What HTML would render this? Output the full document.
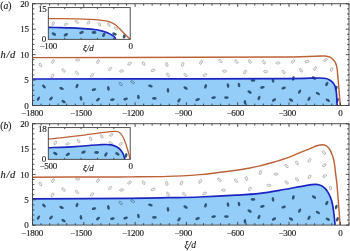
<!DOCTYPE html>
<html><head><meta charset="utf-8"><style>
html,body{margin:0;padding:0;background:#fff;width:350px;height:251px;overflow:hidden}
svg{display:block}
text{font-family:"Liberation Serif","DejaVu Serif",serif;fill:#222;stroke:#222;stroke-width:0.15px}
</style></head><body>
<svg width="350" height="251" viewBox="0 0 350 251">
<path d="M32.50,79.00 C60.42,78.97 158.75,78.91 200.00,78.85 C241.25,78.79 261.67,78.77 280.00,78.65 C298.33,78.53 303.33,78.26 310.00,78.15 C316.67,78.04 317.33,77.94 320.00,78.00 C322.67,78.06 324.33,78.13 326.00,78.50 C327.67,78.87 328.83,79.50 330.00,80.20 C331.17,80.90 332.17,81.73 333.00,82.70 C333.83,83.67 334.50,84.78 335.00,86.00 C335.50,87.22 335.73,88.50 336.00,90.00 C336.27,91.50 336.42,92.42 336.60,95.00 C336.78,97.58 337.02,103.75 337.10,105.50 L337.10,105.50 L32.50,105.50 Z" fill="#93cdf8"/>
<ellipse cx="44.0" cy="86.6" rx="2.35" ry="1.32" transform="rotate(45 44.0 86.6)" fill="#2f5676"/>
<ellipse cx="61.6" cy="88.4" rx="2.35" ry="1.32" transform="rotate(20 61.6 88.4)" fill="#2f5676"/>
<ellipse cx="77.0" cy="86.0" rx="2.35" ry="1.32" transform="rotate(-70 77.0 86.0)" fill="#2f5676"/>
<ellipse cx="94.0" cy="89.6" rx="2.35" ry="1.32" transform="rotate(-15 94.0 89.6)" fill="#2f5676"/>
<ellipse cx="38.4" cy="98.6" rx="2.35" ry="1.32" transform="rotate(-60 38.4 98.6)" fill="#2f5676"/>
<ellipse cx="51.0" cy="98.6" rx="2.35" ry="1.32" transform="rotate(-45 51.0 98.6)" fill="#2f5676"/>
<ellipse cx="63.6" cy="101.6" rx="2.35" ry="1.32" transform="rotate(30 63.6 101.6)" fill="#2f5676"/>
<ellipse cx="81.0" cy="98.4" rx="2.35" ry="1.32" transform="rotate(80 81.0 98.4)" fill="#2f5676"/>
<ellipse cx="98.0" cy="99.6" rx="2.35" ry="1.32" transform="rotate(-40 98.0 99.6)" fill="#2f5676"/>
<ellipse cx="108.4" cy="88.4" rx="2.35" ry="1.32" transform="rotate(80 108.4 88.4)" fill="#2f5676"/>
<ellipse cx="150.4" cy="86.0" rx="2.35" ry="1.32" transform="rotate(10 150.4 86.0)" fill="#2f5676"/>
<ellipse cx="168.0" cy="90.4" rx="2.35" ry="1.32" transform="rotate(85 168.0 90.4)" fill="#2f5676"/>
<ellipse cx="112.4" cy="99.6" rx="2.35" ry="1.32" transform="rotate(-10 112.4 99.6)" fill="#2f5676"/>
<ellipse cx="125.6" cy="99.0" rx="2.35" ry="1.32" transform="rotate(-15 125.6 99.0)" fill="#2f5676"/>
<ellipse cx="138.4" cy="97.0" rx="2.35" ry="1.32" transform="rotate(80 138.4 97.0)" fill="#2f5676"/>
<ellipse cx="154.4" cy="98.4" rx="2.35" ry="1.32" transform="rotate(0 154.4 98.4)" fill="#2f5676"/>
<ellipse cx="185.6" cy="88.0" rx="2.35" ry="1.32" transform="rotate(30 185.6 88.0)" fill="#2f5676"/>
<ellipse cx="205.6" cy="86.4" rx="2.35" ry="1.32" transform="rotate(-70 205.6 86.4)" fill="#2f5676"/>
<ellipse cx="228.0" cy="85.6" rx="2.35" ry="1.32" transform="rotate(80 228.0 85.6)" fill="#2f5676"/>
<ellipse cx="179.0" cy="100.4" rx="2.35" ry="1.32" transform="rotate(-60 179.0 100.4)" fill="#2f5676"/>
<ellipse cx="197.6" cy="99.6" rx="2.35" ry="1.32" transform="rotate(-20 197.6 99.6)" fill="#2f5676"/>
<ellipse cx="213.6" cy="97.6" rx="2.35" ry="1.32" transform="rotate(-10 213.6 97.6)" fill="#2f5676"/>
<ellipse cx="226.4" cy="97.6" rx="2.35" ry="1.32" transform="rotate(0 226.4 97.6)" fill="#2f5676"/>
<ellipse cx="253.0" cy="80.4" rx="2.35" ry="1.32" transform="rotate(0 253.0 80.4)" fill="#2f5676"/>
<ellipse cx="273.0" cy="80.4" rx="2.35" ry="1.32" transform="rotate(80 273.0 80.4)" fill="#2f5676"/>
<ellipse cx="293.3" cy="78.4" rx="2.35" ry="1.32" transform="rotate(-75 293.3 78.4)" fill="#2f5676"/>
<ellipse cx="239.0" cy="85.0" rx="2.35" ry="1.32" transform="rotate(80 239.0 85.0)" fill="#2f5676"/>
<ellipse cx="262.4" cy="87.4" rx="2.35" ry="1.32" transform="rotate(-15 262.4 87.4)" fill="#2f5676"/>
<ellipse cx="283.6" cy="88.0" rx="2.35" ry="1.32" transform="rotate(-20 283.6 88.0)" fill="#2f5676"/>
<ellipse cx="299.6" cy="91.6" rx="2.35" ry="1.32" transform="rotate(-60 299.6 91.6)" fill="#2f5676"/>
<ellipse cx="249.6" cy="92.0" rx="2.35" ry="1.32" transform="rotate(30 249.6 92.0)" fill="#2f5676"/>
<ellipse cx="259.0" cy="98.0" rx="2.35" ry="1.32" transform="rotate(-70 259.0 98.0)" fill="#2f5676"/>
<ellipse cx="274.0" cy="100.0" rx="2.35" ry="1.32" transform="rotate(-30 274.0 100.0)" fill="#2f5676"/>
<ellipse cx="291.0" cy="100.0" rx="2.35" ry="1.32" transform="rotate(30 291.0 100.0)" fill="#2f5676"/>
<ellipse cx="245.0" cy="102.4" rx="2.35" ry="1.32" transform="rotate(85 245.0 102.4)" fill="#2f5676"/>
<ellipse cx="314.0" cy="78.0" rx="2.35" ry="1.32" transform="rotate(30 314.0 78.0)" fill="#2f5676"/>
<ellipse cx="326.8" cy="84.0" rx="2.35" ry="1.32" transform="rotate(-60 326.8 84.0)" fill="#2f5676"/>
<ellipse cx="336.2" cy="88.0" rx="2.35" ry="1.32" transform="rotate(-70 336.2 88.0)" fill="#2f5676"/>
<ellipse cx="317.9" cy="93.5" rx="2.35" ry="1.32" transform="rotate(32 317.9 93.5)" fill="#2f5676"/>
<ellipse cx="309.0" cy="98.8" rx="2.35" ry="1.32" transform="rotate(-60 309.0 98.8)" fill="#2f5676"/>
<ellipse cx="327.8" cy="100.2" rx="2.35" ry="1.32" transform="rotate(30 327.8 100.2)" fill="#2f5676"/>
<ellipse cx="337.4" cy="100.2" rx="2.35" ry="1.32" transform="rotate(-70 337.4 100.2)" fill="#2f5676"/>
<ellipse cx="40.4" cy="65.0" rx="2.10" ry="1.10" transform="rotate(60 40.4 65.0)" fill="#f1f1f1" stroke="#ababab" stroke-width="0.75"/>
<ellipse cx="53.0" cy="61.6" rx="2.10" ry="1.10" transform="rotate(-60 53.0 61.6)" fill="#f1f1f1" stroke="#ababab" stroke-width="0.75"/>
<ellipse cx="77.6" cy="60.0" rx="2.10" ry="1.10" transform="rotate(0 77.6 60.0)" fill="#f1f1f1" stroke="#ababab" stroke-width="0.75"/>
<ellipse cx="98.0" cy="61.6" rx="2.10" ry="1.10" transform="rotate(-60 98.0 61.6)" fill="#f1f1f1" stroke="#ababab" stroke-width="0.75"/>
<ellipse cx="63.6" cy="70.6" rx="2.10" ry="1.10" transform="rotate(45 63.6 70.6)" fill="#f1f1f1" stroke="#ababab" stroke-width="0.75"/>
<ellipse cx="77.0" cy="73.0" rx="2.10" ry="1.10" transform="rotate(45 77.0 73.0)" fill="#f1f1f1" stroke="#ababab" stroke-width="0.75"/>
<ellipse cx="52.4" cy="76.0" rx="2.10" ry="1.10" transform="rotate(-60 52.4 76.0)" fill="#f1f1f1" stroke="#ababab" stroke-width="0.75"/>
<ellipse cx="92.0" cy="75.4" rx="2.10" ry="1.10" transform="rotate(-45 92.0 75.4)" fill="#f1f1f1" stroke="#ababab" stroke-width="0.75"/>
<ellipse cx="129.6" cy="63.6" rx="2.10" ry="1.10" transform="rotate(-30 129.6 63.6)" fill="#f1f1f1" stroke="#ababab" stroke-width="0.75"/>
<ellipse cx="143.6" cy="63.6" rx="2.10" ry="1.10" transform="rotate(60 143.6 63.6)" fill="#f1f1f1" stroke="#ababab" stroke-width="0.75"/>
<ellipse cx="166.8" cy="64.5" rx="2.10" ry="1.10" transform="rotate(75 166.8 64.5)" fill="#f1f1f1" stroke="#ababab" stroke-width="0.75"/>
<ellipse cx="110.0" cy="69.0" rx="2.10" ry="1.10" transform="rotate(-45 110.0 69.0)" fill="#f1f1f1" stroke="#ababab" stroke-width="0.75"/>
<ellipse cx="121.6" cy="71.0" rx="2.10" ry="1.10" transform="rotate(-10 121.6 71.0)" fill="#f1f1f1" stroke="#ababab" stroke-width="0.75"/>
<ellipse cx="153.0" cy="70.4" rx="2.10" ry="1.10" transform="rotate(-20 153.0 70.4)" fill="#f1f1f1" stroke="#ababab" stroke-width="0.75"/>
<ellipse cx="168.0" cy="75.0" rx="2.10" ry="1.10" transform="rotate(60 168.0 75.0)" fill="#f1f1f1" stroke="#ababab" stroke-width="0.75"/>
<ellipse cx="182.6" cy="64.5" rx="2.10" ry="1.10" transform="rotate(-65 182.6 64.5)" fill="#f1f1f1" stroke="#ababab" stroke-width="0.75"/>
<ellipse cx="201.0" cy="62.4" rx="2.10" ry="1.10" transform="rotate(-60 201.0 62.4)" fill="#f1f1f1" stroke="#ababab" stroke-width="0.75"/>
<ellipse cx="220.4" cy="61.0" rx="2.10" ry="1.10" transform="rotate(45 220.4 61.0)" fill="#f1f1f1" stroke="#ababab" stroke-width="0.75"/>
<ellipse cx="236.5" cy="61.6" rx="2.10" ry="1.10" transform="rotate(45 236.5 61.6)" fill="#f1f1f1" stroke="#ababab" stroke-width="0.75"/>
<ellipse cx="185.6" cy="75.0" rx="2.10" ry="1.10" transform="rotate(45 185.6 75.0)" fill="#f1f1f1" stroke="#ababab" stroke-width="0.75"/>
<ellipse cx="205.0" cy="75.0" rx="2.10" ry="1.10" transform="rotate(-30 205.0 75.0)" fill="#f1f1f1" stroke="#ababab" stroke-width="0.75"/>
<ellipse cx="224.5" cy="71.2" rx="2.10" ry="1.10" transform="rotate(5 224.5 71.2)" fill="#f1f1f1" stroke="#ababab" stroke-width="0.75"/>
<ellipse cx="249.8" cy="61.5" rx="2.10" ry="1.10" transform="rotate(60 249.8 61.5)" fill="#f1f1f1" stroke="#ababab" stroke-width="0.75"/>
<ellipse cx="264.0" cy="62.2" rx="2.10" ry="1.10" transform="rotate(60 264.0 62.2)" fill="#f1f1f1" stroke="#ababab" stroke-width="0.75"/>
<ellipse cx="278.0" cy="63.0" rx="2.10" ry="1.10" transform="rotate(-5 278.0 63.0)" fill="#f1f1f1" stroke="#ababab" stroke-width="0.75"/>
<ellipse cx="293.0" cy="61.5" rx="2.10" ry="1.10" transform="rotate(-45 293.0 61.5)" fill="#f1f1f1" stroke="#ababab" stroke-width="0.75"/>
<ellipse cx="245.0" cy="72.0" rx="2.10" ry="1.10" transform="rotate(-60 245.0 72.0)" fill="#f1f1f1" stroke="#ababab" stroke-width="0.75"/>
<ellipse cx="265.6" cy="71.6" rx="2.10" ry="1.10" transform="rotate(0 265.6 71.6)" fill="#f1f1f1" stroke="#ababab" stroke-width="0.75"/>
<ellipse cx="283.6" cy="72.0" rx="2.10" ry="1.10" transform="rotate(45 283.6 72.0)" fill="#f1f1f1" stroke="#ababab" stroke-width="0.75"/>
<ellipse cx="301.0" cy="70.3" rx="2.10" ry="1.10" transform="rotate(60 301.0 70.3)" fill="#f1f1f1" stroke="#ababab" stroke-width="0.75"/>
<ellipse cx="307.0" cy="61.6" rx="2.10" ry="1.10" transform="rotate(-15 307.0 61.6)" fill="#f1f1f1" stroke="#ababab" stroke-width="0.75"/>
<ellipse cx="325.5" cy="60.0" rx="2.10" ry="1.10" transform="rotate(-30 325.5 60.0)" fill="#f1f1f1" stroke="#ababab" stroke-width="0.75"/>
<ellipse cx="315.0" cy="68.5" rx="2.10" ry="1.10" transform="rotate(-60 315.0 68.5)" fill="#f1f1f1" stroke="#ababab" stroke-width="0.75"/>
<ellipse cx="331.5" cy="69.5" rx="2.10" ry="1.10" transform="rotate(-80 331.5 69.5)" fill="#f1f1f1" stroke="#ababab" stroke-width="0.75"/>
<ellipse cx="120.6" cy="84.0" rx="2.10" ry="1.10" transform="rotate(45 120.6 84.0)" fill="none" stroke="#52789a" stroke-width="0.75"/>
<ellipse cx="132.6" cy="82.1" rx="2.10" ry="1.10" transform="rotate(30 132.6 82.1)" fill="none" stroke="#52789a" stroke-width="0.75"/>
<path d="M32.50,57.60 C60.42,57.55 158.75,57.40 200.00,57.30 C241.25,57.20 260.83,57.18 280.00,57.00 C299.17,56.82 307.50,56.37 315.00,56.20 C322.50,56.03 322.50,55.83 325.00,56.00 C327.50,56.17 328.58,56.53 330.00,57.20 C331.42,57.87 332.53,58.95 333.50,60.00 C334.47,61.05 335.22,62.17 335.80,63.50 C336.38,64.83 336.68,66.08 337.00,68.00 C337.32,69.92 337.43,72.17 337.70,75.00 C337.97,77.83 338.32,81.67 338.60,85.00 C338.88,88.33 339.13,91.58 339.40,95.00 C339.67,98.42 340.07,103.75 340.20,105.50" fill="none" stroke="#bc6238" stroke-width="1.45"/>
<path d="M32.50,79.00 C60.42,78.97 158.75,78.91 200.00,78.85 C241.25,78.79 261.67,78.77 280.00,78.65 C298.33,78.53 303.33,78.26 310.00,78.15 C316.67,78.04 317.33,77.94 320.00,78.00 C322.67,78.06 324.33,78.13 326.00,78.50 C327.67,78.87 328.83,79.50 330.00,80.20 C331.17,80.90 332.17,81.73 333.00,82.70 C333.83,83.67 334.50,84.78 335.00,86.00 C335.50,87.22 335.73,88.50 336.00,90.00 C336.27,91.50 336.42,92.42 336.60,95.00 C336.78,97.58 337.02,103.75 337.10,105.50" fill="none" stroke="#1c24c0" stroke-width="1.70"/>
<path d="M32.50,105.50h3.20 M349.00,105.50h-3.20 M32.50,100.41h1.90 M349.00,100.41h-1.90 M32.50,95.33h1.90 M349.00,95.33h-1.90 M32.50,90.24h1.90 M349.00,90.24h-1.90 M32.50,85.15h1.90 M349.00,85.15h-1.90 M32.50,80.06h3.20 M349.00,80.06h-3.20 M32.50,74.97h1.90 M349.00,74.97h-1.90 M32.50,69.89h1.90 M349.00,69.89h-1.90 M32.50,64.80h1.90 M349.00,64.80h-1.90 M32.50,59.71h1.90 M349.00,59.71h-1.90 M32.50,54.62h3.20 M349.00,54.62h-3.20 M32.50,49.54h1.90 M349.00,49.54h-1.90 M32.50,44.45h1.90 M349.00,44.45h-1.90 M32.50,39.36h1.90 M349.00,39.36h-1.90 M32.50,34.27h1.90 M349.00,34.27h-1.90 M32.50,29.19h3.20 M349.00,29.19h-3.20 M32.50,24.10h1.90 M349.00,24.10h-1.90 M32.50,19.01h1.90 M349.00,19.01h-1.90 M32.50,13.92h1.90 M349.00,13.92h-1.90 M32.50,8.84h1.90 M349.00,8.84h-1.90 M32.50,3.75h3.20 M349.00,3.75h-3.20 M32.50,105.50v-3.20 M32.50,3.75v3.20 M41.05,105.50v-1.90 M41.05,3.75v1.90 M49.60,105.50v-1.90 M49.60,3.75v1.90 M58.15,105.50v-1.90 M58.15,3.75v1.90 M66.70,105.50v-1.90 M66.70,3.75v1.90 M75.25,105.50v-1.90 M75.25,3.75v1.90 M83.80,105.50v-3.20 M83.80,3.75v3.20 M92.35,105.50v-1.90 M92.35,3.75v1.90 M100.90,105.50v-1.90 M100.90,3.75v1.90 M109.45,105.50v-1.90 M109.45,3.75v1.90 M118.00,105.50v-1.90 M118.00,3.75v1.90 M126.55,105.50v-1.90 M126.55,3.75v1.90 M135.10,105.50v-3.20 M135.10,3.75v3.20 M143.65,105.50v-1.90 M143.65,3.75v1.90 M152.20,105.50v-1.90 M152.20,3.75v1.90 M160.75,105.50v-1.90 M160.75,3.75v1.90 M169.30,105.50v-1.90 M169.30,3.75v1.90 M177.85,105.50v-1.90 M177.85,3.75v1.90 M186.40,105.50v-3.20 M186.40,3.75v3.20 M194.95,105.50v-1.90 M194.95,3.75v1.90 M203.50,105.50v-1.90 M203.50,3.75v1.90 M212.05,105.50v-1.90 M212.05,3.75v1.90 M220.60,105.50v-1.90 M220.60,3.75v1.90 M229.15,105.50v-1.90 M229.15,3.75v1.90 M237.70,105.50v-3.20 M237.70,3.75v3.20 M246.25,105.50v-1.90 M246.25,3.75v1.90 M254.80,105.50v-1.90 M254.80,3.75v1.90 M263.35,105.50v-1.90 M263.35,3.75v1.90 M271.90,105.50v-1.90 M271.90,3.75v1.90 M280.45,105.50v-1.90 M280.45,3.75v1.90 M289.00,105.50v-3.20 M289.00,3.75v3.20 M297.55,105.50v-1.90 M297.55,3.75v1.90 M306.10,105.50v-1.90 M306.10,3.75v1.90 M314.65,105.50v-1.90 M314.65,3.75v1.90 M323.20,105.50v-1.90 M323.20,3.75v1.90 M331.75,105.50v-1.90 M331.75,3.75v1.90 M340.30,105.50v-3.20 M340.30,3.75v3.20 M348.85,105.50v-1.90 M348.85,3.75v1.90" stroke="#3c3c3c" stroke-width="0.90" fill="none"/>
<rect x="32.50" y="3.75" width="316.50" height="101.75" fill="none" stroke="#3c3c3c" stroke-width="0.90"/>
<rect x="48.30" y="7.60" width="81.90" height="31.75" fill="#fff"/>
<path d="M48.30,27.40 C50.25,27.43 56.38,27.52 60.00,27.60 C63.62,27.68 66.17,27.73 70.00,27.90 C73.83,28.07 79.17,28.35 83.00,28.60 C86.83,28.85 90.50,29.17 93.00,29.40 C95.50,29.63 96.33,29.68 98.00,30.00 C99.67,30.32 101.33,30.82 103.00,31.30 C104.67,31.78 106.50,32.27 108.00,32.90 C109.50,33.53 110.90,34.40 112.00,35.10 C113.10,35.80 113.98,36.39 114.60,37.10 C115.22,37.81 115.52,38.98 115.70,39.35 L115.70,39.35 L48.30,39.35 Z" fill="#93cdf8"/>
<ellipse cx="53.9" cy="34.0" rx="2.40" ry="1.40" transform="rotate(30 53.9 34.0)" fill="#2f5676"/>
<ellipse cx="65.8" cy="34.7" rx="2.40" ry="1.40" transform="rotate(-30 65.8 34.7)" fill="#2f5676"/>
<ellipse cx="81.5" cy="32.5" rx="2.40" ry="1.40" transform="rotate(-20 81.5 32.5)" fill="#2f5676"/>
<ellipse cx="94.0" cy="32.5" rx="2.40" ry="1.40" transform="rotate(0 94.0 32.5)" fill="#2f5676"/>
<ellipse cx="103.8" cy="34.7" rx="2.40" ry="1.40" transform="rotate(-60 103.8 34.7)" fill="#2f5676"/>
<ellipse cx="114.5" cy="34.0" rx="2.40" ry="1.40" transform="rotate(20 114.5 34.0)" fill="#2f5676"/>
<ellipse cx="124.3" cy="36.2" rx="2.40" ry="1.40" transform="rotate(-70 124.3 36.2)" fill="#2f5676"/>
<ellipse cx="53.2" cy="23.5" rx="1.95" ry="1.00" transform="rotate(-70 53.2 23.5)" fill="#f1f1f1" stroke="#ababab" stroke-width="0.75"/>
<ellipse cx="66.0" cy="24.3" rx="1.95" ry="1.00" transform="rotate(-20 66.0 24.3)" fill="#f1f1f1" stroke="#ababab" stroke-width="0.75"/>
<ellipse cx="76.8" cy="22.0" rx="1.95" ry="1.00" transform="rotate(30 76.8 22.0)" fill="#f1f1f1" stroke="#ababab" stroke-width="0.75"/>
<ellipse cx="88.5" cy="22.5" rx="1.95" ry="1.00" transform="rotate(-60 88.5 22.5)" fill="#f1f1f1" stroke="#ababab" stroke-width="0.75"/>
<ellipse cx="99.5" cy="24.3" rx="1.95" ry="1.00" transform="rotate(70 99.5 24.3)" fill="#f1f1f1" stroke="#ababab" stroke-width="0.75"/>
<ellipse cx="108.8" cy="24.6" rx="1.95" ry="1.00" transform="rotate(60 108.8 24.6)" fill="#f1f1f1" stroke="#ababab" stroke-width="0.75"/>
<ellipse cx="115.8" cy="28.4" rx="1.95" ry="1.00" transform="rotate(30 115.8 28.4)" fill="#f1f1f1" stroke="#ababab" stroke-width="0.75"/>
<path d="M48.30,18.60 C52.75,18.63 68.05,18.68 75.00,18.80 C81.95,18.92 85.83,19.08 90.00,19.30 C94.17,19.52 97.17,19.78 100.00,20.10 C102.83,20.42 105.00,20.75 107.00,21.20 C109.00,21.65 110.50,22.12 112.00,22.80 C113.50,23.48 114.67,24.27 116.00,25.30 C117.33,26.33 118.58,27.58 120.00,29.00 C121.42,30.42 122.80,32.07 124.50,33.80 C126.20,35.52 129.25,38.42 130.20,39.35" fill="none" stroke="#bc6238" stroke-width="1.30"/>
<path d="M48.30,27.40 C50.25,27.43 56.38,27.52 60.00,27.60 C63.62,27.68 66.17,27.73 70.00,27.90 C73.83,28.07 79.17,28.35 83.00,28.60 C86.83,28.85 90.50,29.17 93.00,29.40 C95.50,29.63 96.33,29.68 98.00,30.00 C99.67,30.32 101.33,30.82 103.00,31.30 C104.67,31.78 106.50,32.27 108.00,32.90 C109.50,33.53 110.90,34.40 112.00,35.10 C113.10,35.80 113.98,36.39 114.60,37.10 C115.22,37.81 115.52,38.98 115.70,39.35" fill="none" stroke="#1c24c0" stroke-width="1.60"/>
<path d="M64.68,39.35v-1.50 M64.68,7.60v1.50 M81.06,39.35v-1.50 M81.06,7.60v1.50 M97.44,39.35v-1.50 M97.44,7.60v1.50 M113.82,39.35v-1.50 M113.82,7.60v1.50" stroke="#3c3c3c" stroke-width="0.90" fill="none"/>
<rect x="48.30" y="7.60" width="81.90" height="31.75" fill="none" stroke="#3c3c3c" stroke-width="0.90"/>
<text x="28.80" y="108.70" font-size="9.00" text-anchor="end">0</text>
<text x="28.80" y="83.26" font-size="9.00" text-anchor="end">5</text>
<text x="28.80" y="57.83" font-size="9.00" letter-spacing="-0.25" text-anchor="end">10</text>
<text x="28.80" y="32.39" font-size="9.00" letter-spacing="-0.25" text-anchor="end">15</text>
<text x="28.80" y="6.95" font-size="9.00" letter-spacing="-0.25" text-anchor="end">20</text>
<text x="21.30" y="115.70" font-size="9.00" letter-spacing="-0.25">−1800</text>
<text x="70.00" y="115.70" font-size="9.00" letter-spacing="-0.25">−1500</text>
<text x="122.00" y="115.70" font-size="9.00" letter-spacing="-0.25">−1200</text>
<text x="174.50" y="115.70" font-size="9.00" letter-spacing="-0.25">−900</text>
<text x="226.50" y="115.70" font-size="9.00" letter-spacing="-0.25">−600</text>
<text x="278.50" y="115.70" font-size="9.00" letter-spacing="-0.25">−300</text>
<text x="340.40" y="115.70" font-size="9.00" text-anchor="middle">0</text>
<text x="0.45" y="58.00" font-size="10.50" font-style="italic" letter-spacing="0.75">h/d</text>
<text x="46.50" y="12.00" font-size="9.00" letter-spacing="-0.25" text-anchor="end">15</text>
<text x="46.30" y="41.50" font-size="9.00" text-anchor="end">0</text>
<text x="39.40" y="49.00" font-size="9.00" letter-spacing="-0.25">−100</text>
<text x="130.80" y="49.00" font-size="9.00" text-anchor="middle">0</text>
<text x="83.00" y="50.80" font-size="9.00" font-style="italic">ξ/d</text>
<text x="0.2" y="9.40" font-size="9.6">(<tspan font-style="italic">a</tspan>)</text>
<path d="M32.50,198.80 C48.75,198.72 107.42,198.48 130.00,198.30 C152.58,198.12 156.33,197.92 168.00,197.70 C179.67,197.48 188.67,197.42 200.00,197.00 C211.33,196.58 226.00,195.82 236.00,195.20 C246.00,194.58 252.00,194.25 260.00,193.30 C268.00,192.35 277.33,190.62 284.00,189.50 C290.67,188.38 295.67,187.37 300.00,186.60 C304.33,185.83 307.33,185.28 310.00,184.90 C312.67,184.52 314.17,184.20 316.00,184.30 C317.83,184.40 319.50,184.82 321.00,185.50 C322.50,186.18 323.83,187.25 325.00,188.40 C326.17,189.55 327.08,190.88 328.00,192.40 C328.92,193.92 329.80,195.73 330.50,197.50 C331.20,199.27 331.67,200.58 332.20,203.00 C332.73,205.42 333.22,208.32 333.70,212.00 C334.18,215.68 334.87,222.92 335.10,225.10 L335.10,225.10 L32.50,225.10 Z" fill="#93cdf8"/>
<ellipse cx="44.0" cy="205.6" rx="2.35" ry="1.32" transform="rotate(45 44.0 205.6)" fill="#2f5676"/>
<ellipse cx="61.6" cy="207.4" rx="2.35" ry="1.32" transform="rotate(20 61.6 207.4)" fill="#2f5676"/>
<ellipse cx="77.0" cy="205.0" rx="2.35" ry="1.32" transform="rotate(-70 77.0 205.0)" fill="#2f5676"/>
<ellipse cx="94.0" cy="208.6" rx="2.35" ry="1.32" transform="rotate(-15 94.0 208.6)" fill="#2f5676"/>
<ellipse cx="38.4" cy="217.6" rx="2.35" ry="1.32" transform="rotate(-60 38.4 217.6)" fill="#2f5676"/>
<ellipse cx="51.0" cy="217.6" rx="2.35" ry="1.32" transform="rotate(-45 51.0 217.6)" fill="#2f5676"/>
<ellipse cx="63.6" cy="220.6" rx="2.35" ry="1.32" transform="rotate(30 63.6 220.6)" fill="#2f5676"/>
<ellipse cx="81.0" cy="217.4" rx="2.35" ry="1.32" transform="rotate(80 81.0 217.4)" fill="#2f5676"/>
<ellipse cx="98.0" cy="218.6" rx="2.35" ry="1.32" transform="rotate(-40 98.0 218.6)" fill="#2f5676"/>
<ellipse cx="108.4" cy="207.4" rx="2.35" ry="1.32" transform="rotate(80 108.4 207.4)" fill="#2f5676"/>
<ellipse cx="150.4" cy="205.0" rx="2.35" ry="1.32" transform="rotate(10 150.4 205.0)" fill="#2f5676"/>
<ellipse cx="168.0" cy="209.4" rx="2.35" ry="1.32" transform="rotate(85 168.0 209.4)" fill="#2f5676"/>
<ellipse cx="112.4" cy="218.6" rx="2.35" ry="1.32" transform="rotate(-10 112.4 218.6)" fill="#2f5676"/>
<ellipse cx="125.6" cy="218.0" rx="2.35" ry="1.32" transform="rotate(-15 125.6 218.0)" fill="#2f5676"/>
<ellipse cx="138.4" cy="216.0" rx="2.35" ry="1.32" transform="rotate(80 138.4 216.0)" fill="#2f5676"/>
<ellipse cx="154.4" cy="217.4" rx="2.35" ry="1.32" transform="rotate(0 154.4 217.4)" fill="#2f5676"/>
<ellipse cx="185.6" cy="207.0" rx="2.35" ry="1.32" transform="rotate(30 185.6 207.0)" fill="#2f5676"/>
<ellipse cx="205.6" cy="205.4" rx="2.35" ry="1.32" transform="rotate(-70 205.6 205.4)" fill="#2f5676"/>
<ellipse cx="228.0" cy="204.6" rx="2.35" ry="1.32" transform="rotate(80 228.0 204.6)" fill="#2f5676"/>
<ellipse cx="179.0" cy="219.4" rx="2.35" ry="1.32" transform="rotate(-60 179.0 219.4)" fill="#2f5676"/>
<ellipse cx="197.6" cy="218.6" rx="2.35" ry="1.32" transform="rotate(-20 197.6 218.6)" fill="#2f5676"/>
<ellipse cx="213.6" cy="216.6" rx="2.35" ry="1.32" transform="rotate(-10 213.6 216.6)" fill="#2f5676"/>
<ellipse cx="226.4" cy="216.6" rx="2.35" ry="1.32" transform="rotate(0 226.4 216.6)" fill="#2f5676"/>
<ellipse cx="253.0" cy="199.4" rx="2.35" ry="1.32" transform="rotate(0 253.0 199.4)" fill="#2f5676"/>
<ellipse cx="273.0" cy="199.4" rx="2.35" ry="1.32" transform="rotate(80 273.0 199.4)" fill="#2f5676"/>
<ellipse cx="293.3" cy="197.4" rx="2.35" ry="1.32" transform="rotate(-75 293.3 197.4)" fill="#2f5676"/>
<ellipse cx="239.0" cy="204.0" rx="2.35" ry="1.32" transform="rotate(80 239.0 204.0)" fill="#2f5676"/>
<ellipse cx="262.4" cy="206.4" rx="2.35" ry="1.32" transform="rotate(-15 262.4 206.4)" fill="#2f5676"/>
<ellipse cx="283.6" cy="207.0" rx="2.35" ry="1.32" transform="rotate(-20 283.6 207.0)" fill="#2f5676"/>
<ellipse cx="299.6" cy="210.6" rx="2.35" ry="1.32" transform="rotate(-60 299.6 210.6)" fill="#2f5676"/>
<ellipse cx="249.6" cy="211.0" rx="2.35" ry="1.32" transform="rotate(30 249.6 211.0)" fill="#2f5676"/>
<ellipse cx="259.0" cy="217.0" rx="2.35" ry="1.32" transform="rotate(-70 259.0 217.0)" fill="#2f5676"/>
<ellipse cx="274.0" cy="219.0" rx="2.35" ry="1.32" transform="rotate(-30 274.0 219.0)" fill="#2f5676"/>
<ellipse cx="291.0" cy="219.0" rx="2.35" ry="1.32" transform="rotate(30 291.0 219.0)" fill="#2f5676"/>
<ellipse cx="245.0" cy="221.4" rx="2.35" ry="1.32" transform="rotate(85 245.0 221.4)" fill="#2f5676"/>
<ellipse cx="314.0" cy="197.0" rx="2.35" ry="1.32" transform="rotate(30 314.0 197.0)" fill="#2f5676"/>
<ellipse cx="326.8" cy="203.0" rx="2.35" ry="1.32" transform="rotate(-60 326.8 203.0)" fill="#2f5676"/>
<ellipse cx="336.2" cy="207.0" rx="2.35" ry="1.32" transform="rotate(-70 336.2 207.0)" fill="#2f5676"/>
<ellipse cx="317.9" cy="212.5" rx="2.35" ry="1.32" transform="rotate(32 317.9 212.5)" fill="#2f5676"/>
<ellipse cx="309.0" cy="217.8" rx="2.35" ry="1.32" transform="rotate(-60 309.0 217.8)" fill="#2f5676"/>
<ellipse cx="327.8" cy="219.2" rx="2.35" ry="1.32" transform="rotate(30 327.8 219.2)" fill="#2f5676"/>
<ellipse cx="337.4" cy="219.2" rx="2.35" ry="1.32" transform="rotate(-70 337.4 219.2)" fill="#2f5676"/>
<ellipse cx="40.4" cy="184.0" rx="2.10" ry="1.10" transform="rotate(60 40.4 184.0)" fill="#f1f1f1" stroke="#ababab" stroke-width="0.75"/>
<ellipse cx="53.0" cy="180.6" rx="2.10" ry="1.10" transform="rotate(-60 53.0 180.6)" fill="#f1f1f1" stroke="#ababab" stroke-width="0.75"/>
<ellipse cx="77.6" cy="179.0" rx="2.10" ry="1.10" transform="rotate(0 77.6 179.0)" fill="#f1f1f1" stroke="#ababab" stroke-width="0.75"/>
<ellipse cx="98.0" cy="180.6" rx="2.10" ry="1.10" transform="rotate(-60 98.0 180.6)" fill="#f1f1f1" stroke="#ababab" stroke-width="0.75"/>
<ellipse cx="63.6" cy="189.6" rx="2.10" ry="1.10" transform="rotate(45 63.6 189.6)" fill="#f1f1f1" stroke="#ababab" stroke-width="0.75"/>
<ellipse cx="77.0" cy="192.0" rx="2.10" ry="1.10" transform="rotate(45 77.0 192.0)" fill="#f1f1f1" stroke="#ababab" stroke-width="0.75"/>
<ellipse cx="52.4" cy="195.0" rx="2.10" ry="1.10" transform="rotate(-60 52.4 195.0)" fill="#f1f1f1" stroke="#ababab" stroke-width="0.75"/>
<ellipse cx="92.0" cy="194.4" rx="2.10" ry="1.10" transform="rotate(-45 92.0 194.4)" fill="#f1f1f1" stroke="#ababab" stroke-width="0.75"/>
<ellipse cx="129.6" cy="182.6" rx="2.10" ry="1.10" transform="rotate(-30 129.6 182.6)" fill="#f1f1f1" stroke="#ababab" stroke-width="0.75"/>
<ellipse cx="143.6" cy="182.6" rx="2.10" ry="1.10" transform="rotate(60 143.6 182.6)" fill="#f1f1f1" stroke="#ababab" stroke-width="0.75"/>
<ellipse cx="166.8" cy="183.5" rx="2.10" ry="1.10" transform="rotate(75 166.8 183.5)" fill="#f1f1f1" stroke="#ababab" stroke-width="0.75"/>
<ellipse cx="110.0" cy="188.0" rx="2.10" ry="1.10" transform="rotate(-45 110.0 188.0)" fill="#f1f1f1" stroke="#ababab" stroke-width="0.75"/>
<ellipse cx="121.6" cy="190.0" rx="2.10" ry="1.10" transform="rotate(-10 121.6 190.0)" fill="#f1f1f1" stroke="#ababab" stroke-width="0.75"/>
<ellipse cx="153.0" cy="189.4" rx="2.10" ry="1.10" transform="rotate(-20 153.0 189.4)" fill="#f1f1f1" stroke="#ababab" stroke-width="0.75"/>
<ellipse cx="168.0" cy="194.0" rx="2.10" ry="1.10" transform="rotate(60 168.0 194.0)" fill="#f1f1f1" stroke="#ababab" stroke-width="0.75"/>
<ellipse cx="181.5" cy="183.0" rx="2.10" ry="1.10" transform="rotate(-70 181.5 183.0)" fill="#f1f1f1" stroke="#ababab" stroke-width="0.75"/>
<ellipse cx="200.2" cy="181.5" rx="2.10" ry="1.10" transform="rotate(-60 200.2 181.5)" fill="#f1f1f1" stroke="#ababab" stroke-width="0.75"/>
<ellipse cx="219.3" cy="179.8" rx="2.10" ry="1.10" transform="rotate(45 219.3 179.8)" fill="#f1f1f1" stroke="#ababab" stroke-width="0.75"/>
<ellipse cx="236.0" cy="180.8" rx="2.10" ry="1.10" transform="rotate(45 236.0 180.8)" fill="#f1f1f1" stroke="#ababab" stroke-width="0.75"/>
<ellipse cx="184.2" cy="194.2" rx="2.10" ry="1.10" transform="rotate(45 184.2 194.2)" fill="#f1f1f1" stroke="#ababab" stroke-width="0.75"/>
<ellipse cx="204.5" cy="193.6" rx="2.10" ry="1.10" transform="rotate(-30 204.5 193.6)" fill="#f1f1f1" stroke="#ababab" stroke-width="0.75"/>
<ellipse cx="223.5" cy="190.2" rx="2.10" ry="1.10" transform="rotate(5 223.5 190.2)" fill="#f1f1f1" stroke="#ababab" stroke-width="0.75"/>
<ellipse cx="246.5" cy="178.5" rx="2.10" ry="1.10" transform="rotate(70 246.5 178.5)" fill="#f1f1f1" stroke="#ababab" stroke-width="0.75"/>
<ellipse cx="260.5" cy="172.5" rx="2.10" ry="1.10" transform="rotate(-70 260.5 172.5)" fill="#f1f1f1" stroke="#ababab" stroke-width="0.75"/>
<ellipse cx="276.0" cy="174.1" rx="2.10" ry="1.10" transform="rotate(0 276.0 174.1)" fill="#f1f1f1" stroke="#ababab" stroke-width="0.75"/>
<ellipse cx="286.5" cy="166.0" rx="2.10" ry="1.10" transform="rotate(45 286.5 166.0)" fill="#f1f1f1" stroke="#ababab" stroke-width="0.75"/>
<ellipse cx="297.0" cy="163.0" rx="2.10" ry="1.10" transform="rotate(60 297.0 163.0)" fill="#f1f1f1" stroke="#ababab" stroke-width="0.75"/>
<ellipse cx="249.8" cy="189.0" rx="2.10" ry="1.10" transform="rotate(-60 249.8 189.0)" fill="#f1f1f1" stroke="#ababab" stroke-width="0.75"/>
<ellipse cx="269.0" cy="185.3" rx="2.10" ry="1.10" transform="rotate(0 269.0 185.3)" fill="#f1f1f1" stroke="#ababab" stroke-width="0.75"/>
<ellipse cx="286.6" cy="182.5" rx="2.10" ry="1.10" transform="rotate(45 286.6 182.5)" fill="#f1f1f1" stroke="#ababab" stroke-width="0.75"/>
<ellipse cx="297.0" cy="179.4" rx="2.10" ry="1.10" transform="rotate(45 297.0 179.4)" fill="#f1f1f1" stroke="#ababab" stroke-width="0.75"/>
<ellipse cx="309.5" cy="160.3" rx="2.10" ry="1.10" transform="rotate(-60 309.5 160.3)" fill="#f1f1f1" stroke="#ababab" stroke-width="0.75"/>
<ellipse cx="324.0" cy="152.6" rx="2.10" ry="1.10" transform="rotate(45 324.0 152.6)" fill="#f1f1f1" stroke="#ababab" stroke-width="0.75"/>
<ellipse cx="324.3" cy="165.2" rx="2.10" ry="1.10" transform="rotate(-30 324.3 165.2)" fill="#f1f1f1" stroke="#ababab" stroke-width="0.75"/>
<ellipse cx="309.5" cy="176.8" rx="2.10" ry="1.10" transform="rotate(-60 309.5 176.8)" fill="#f1f1f1" stroke="#ababab" stroke-width="0.75"/>
<ellipse cx="324.7" cy="176.0" rx="2.10" ry="1.10" transform="rotate(-30 324.7 176.0)" fill="#f1f1f1" stroke="#ababab" stroke-width="0.75"/>
<ellipse cx="330.5" cy="188.1" rx="2.10" ry="1.10" transform="rotate(85 330.5 188.1)" fill="#f1f1f1" stroke="#ababab" stroke-width="0.75"/>
<ellipse cx="120.6" cy="203.0" rx="2.10" ry="1.10" transform="rotate(45 120.6 203.0)" fill="none" stroke="#52789a" stroke-width="0.75"/>
<ellipse cx="132.6" cy="201.1" rx="2.10" ry="1.10" transform="rotate(30 132.6 201.1)" fill="none" stroke="#52789a" stroke-width="0.75"/>
<path d="M32.50,177.20 C43.75,177.17 83.75,177.05 100.00,177.00 C116.25,176.95 118.67,177.00 130.00,176.90 C141.33,176.80 156.33,176.78 168.00,176.40 C179.67,176.02 192.17,175.17 200.00,174.60 C207.83,174.03 209.58,173.63 215.00,173.00 C220.42,172.37 226.67,171.63 232.50,170.80 C238.33,169.97 245.42,168.82 250.00,168.00 C254.58,167.18 256.25,166.82 260.00,165.90 C263.75,164.98 269.17,163.45 272.50,162.50 C275.83,161.55 277.08,161.13 280.00,160.20 C282.92,159.27 286.67,158.17 290.00,156.90 C293.33,155.63 296.67,153.98 300.00,152.60 C303.33,151.22 307.17,149.75 310.00,148.60 C312.83,147.45 314.92,146.33 317.00,145.70 C319.08,145.07 321.00,144.82 322.50,144.80 C324.00,144.78 325.00,145.12 326.00,145.60 C327.00,146.08 327.75,146.83 328.50,147.70 C329.25,148.57 329.92,149.67 330.50,150.80 C331.08,151.93 331.48,153.05 332.00,154.50 C332.52,155.95 333.17,157.75 333.60,159.50 C334.03,161.25 334.28,162.83 334.60,165.00 C334.92,167.17 335.10,169.17 335.50,172.50 C335.90,175.83 336.48,179.58 337.00,185.00 C337.52,190.42 338.08,198.32 338.60,205.00 C339.12,211.68 339.85,221.75 340.10,225.10" fill="none" stroke="#bc6238" stroke-width="1.45"/>
<path d="M32.50,198.80 C48.75,198.72 107.42,198.48 130.00,198.30 C152.58,198.12 156.33,197.92 168.00,197.70 C179.67,197.48 188.67,197.42 200.00,197.00 C211.33,196.58 226.00,195.82 236.00,195.20 C246.00,194.58 252.00,194.25 260.00,193.30 C268.00,192.35 277.33,190.62 284.00,189.50 C290.67,188.38 295.67,187.37 300.00,186.60 C304.33,185.83 307.33,185.28 310.00,184.90 C312.67,184.52 314.17,184.20 316.00,184.30 C317.83,184.40 319.50,184.82 321.00,185.50 C322.50,186.18 323.83,187.25 325.00,188.40 C326.17,189.55 327.08,190.88 328.00,192.40 C328.92,193.92 329.80,195.73 330.50,197.50 C331.20,199.27 331.67,200.58 332.20,203.00 C332.73,205.42 333.22,208.32 333.70,212.00 C334.18,215.68 334.87,222.92 335.10,225.10" fill="none" stroke="#1c24c0" stroke-width="1.70"/>
<path d="M32.50,225.10h3.20 M349.00,225.10h-3.20 M32.50,220.03h1.90 M349.00,220.03h-1.90 M32.50,214.97h1.90 M349.00,214.97h-1.90 M32.50,209.90h1.90 M349.00,209.90h-1.90 M32.50,204.83h1.90 M349.00,204.83h-1.90 M32.50,199.76h3.20 M349.00,199.76h-3.20 M32.50,194.69h1.90 M349.00,194.69h-1.90 M32.50,189.63h1.90 M349.00,189.63h-1.90 M32.50,184.56h1.90 M349.00,184.56h-1.90 M32.50,179.49h1.90 M349.00,179.49h-1.90 M32.50,174.43h3.20 M349.00,174.43h-3.20 M32.50,169.36h1.90 M349.00,169.36h-1.90 M32.50,164.29h1.90 M349.00,164.29h-1.90 M32.50,159.22h1.90 M349.00,159.22h-1.90 M32.50,154.16h1.90 M349.00,154.16h-1.90 M32.50,149.09h3.20 M349.00,149.09h-3.20 M32.50,144.02h1.90 M349.00,144.02h-1.90 M32.50,138.95h1.90 M349.00,138.95h-1.90 M32.50,133.88h1.90 M349.00,133.88h-1.90 M32.50,128.82h1.90 M349.00,128.82h-1.90 M32.50,123.75h3.20 M349.00,123.75h-3.20 M32.50,225.10v-3.20 M32.50,123.75v3.20 M41.05,225.10v-1.90 M41.05,123.75v1.90 M49.60,225.10v-1.90 M49.60,123.75v1.90 M58.15,225.10v-1.90 M58.15,123.75v1.90 M66.70,225.10v-1.90 M66.70,123.75v1.90 M75.25,225.10v-1.90 M75.25,123.75v1.90 M83.80,225.10v-3.20 M83.80,123.75v3.20 M92.35,225.10v-1.90 M92.35,123.75v1.90 M100.90,225.10v-1.90 M100.90,123.75v1.90 M109.45,225.10v-1.90 M109.45,123.75v1.90 M118.00,225.10v-1.90 M118.00,123.75v1.90 M126.55,225.10v-1.90 M126.55,123.75v1.90 M135.10,225.10v-3.20 M135.10,123.75v3.20 M143.65,225.10v-1.90 M143.65,123.75v1.90 M152.20,225.10v-1.90 M152.20,123.75v1.90 M160.75,225.10v-1.90 M160.75,123.75v1.90 M169.30,225.10v-1.90 M169.30,123.75v1.90 M177.85,225.10v-1.90 M177.85,123.75v1.90 M186.40,225.10v-3.20 M186.40,123.75v3.20 M194.95,225.10v-1.90 M194.95,123.75v1.90 M203.50,225.10v-1.90 M203.50,123.75v1.90 M212.05,225.10v-1.90 M212.05,123.75v1.90 M220.60,225.10v-1.90 M220.60,123.75v1.90 M229.15,225.10v-1.90 M229.15,123.75v1.90 M237.70,225.10v-3.20 M237.70,123.75v3.20 M246.25,225.10v-1.90 M246.25,123.75v1.90 M254.80,225.10v-1.90 M254.80,123.75v1.90 M263.35,225.10v-1.90 M263.35,123.75v1.90 M271.90,225.10v-1.90 M271.90,123.75v1.90 M280.45,225.10v-1.90 M280.45,123.75v1.90 M289.00,225.10v-3.20 M289.00,123.75v3.20 M297.55,225.10v-1.90 M297.55,123.75v1.90 M306.10,225.10v-1.90 M306.10,123.75v1.90 M314.65,225.10v-1.90 M314.65,123.75v1.90 M323.20,225.10v-1.90 M323.20,123.75v1.90 M331.75,225.10v-1.90 M331.75,123.75v1.90 M340.30,225.10v-3.20 M340.30,123.75v3.20 M348.85,225.10v-1.90 M348.85,123.75v1.90" stroke="#3c3c3c" stroke-width="0.90" fill="none"/>
<rect x="32.50" y="123.75" width="316.50" height="101.35" fill="none" stroke="#3c3c3c" stroke-width="0.90"/>
<rect x="48.30" y="127.60" width="81.90" height="31.75" fill="#fff"/>
<path d="M48.30,147.80 C52.75,147.60 67.88,147.02 75.00,146.60 C82.12,146.18 86.83,145.62 91.00,145.30 C95.17,144.98 97.50,144.83 100.00,144.70 C102.50,144.57 104.10,144.47 106.00,144.50 C107.90,144.53 109.65,144.52 111.40,144.90 C113.15,145.28 115.02,146.02 116.50,146.80 C117.98,147.58 119.25,148.53 120.30,149.60 C121.35,150.67 122.17,152.02 122.80,153.20 C123.43,154.38 123.77,155.67 124.10,156.70 C124.43,157.72 124.68,158.91 124.80,159.35 L124.80,159.35 L48.30,159.35 Z" fill="#93cdf8"/>
<ellipse cx="55.3" cy="153.5" rx="2.40" ry="1.40" transform="rotate(30 55.3 153.5)" fill="#2f5676"/>
<ellipse cx="67.8" cy="154.4" rx="2.40" ry="1.40" transform="rotate(-30 67.8 154.4)" fill="#2f5676"/>
<ellipse cx="83.5" cy="152.1" rx="2.40" ry="1.40" transform="rotate(-20 83.5 152.1)" fill="#2f5676"/>
<ellipse cx="96.6" cy="152.5" rx="2.40" ry="1.40" transform="rotate(0 96.6 152.5)" fill="#2f5676"/>
<ellipse cx="105.9" cy="154.4" rx="2.40" ry="1.40" transform="rotate(-60 105.9 154.4)" fill="#2f5676"/>
<ellipse cx="117.4" cy="153.9" rx="2.40" ry="1.40" transform="rotate(30 117.4 153.9)" fill="#2f5676"/>
<ellipse cx="126.0" cy="155.4" rx="2.40" ry="1.40" transform="rotate(-70 126.0 155.4)" fill="#2f5676"/>
<ellipse cx="55.3" cy="142.9" rx="1.95" ry="1.00" transform="rotate(-60 55.3 142.9)" fill="#f1f1f1" stroke="#ababab" stroke-width="0.75"/>
<ellipse cx="67.5" cy="143.9" rx="1.95" ry="1.00" transform="rotate(-20 67.5 143.9)" fill="#f1f1f1" stroke="#ababab" stroke-width="0.75"/>
<ellipse cx="78.6" cy="141.0" rx="1.95" ry="1.00" transform="rotate(60 78.6 141.0)" fill="#f1f1f1" stroke="#ababab" stroke-width="0.75"/>
<ellipse cx="90.6" cy="138.8" rx="1.95" ry="1.00" transform="rotate(60 90.6 138.8)" fill="#f1f1f1" stroke="#ababab" stroke-width="0.75"/>
<ellipse cx="101.7" cy="136.4" rx="1.95" ry="1.00" transform="rotate(60 101.7 136.4)" fill="#f1f1f1" stroke="#ababab" stroke-width="0.75"/>
<ellipse cx="111.2" cy="134.9" rx="1.95" ry="1.00" transform="rotate(-30 111.2 134.9)" fill="#f1f1f1" stroke="#ababab" stroke-width="0.75"/>
<ellipse cx="110.6" cy="142.9" rx="1.95" ry="1.00" transform="rotate(30 110.6 142.9)" fill="#f1f1f1" stroke="#ababab" stroke-width="0.75"/>
<ellipse cx="120.7" cy="143.9" rx="1.95" ry="1.00" transform="rotate(-45 120.7 143.9)" fill="#f1f1f1" stroke="#ababab" stroke-width="0.75"/>
<path d="M48.30,139.20 C52.75,138.70 68.05,137.03 75.00,136.20 C81.95,135.37 85.83,134.75 90.00,134.20 C94.17,133.65 96.67,133.32 100.00,132.90 C103.33,132.48 107.42,131.95 110.00,131.70 C112.58,131.45 113.92,131.27 115.50,131.40 C117.08,131.53 118.33,131.73 119.50,132.50 C120.67,133.27 121.58,134.50 122.50,136.00 C123.42,137.50 124.17,139.30 125.00,141.50 C125.83,143.70 126.63,146.22 127.50,149.20 C128.37,152.17 129.75,157.66 130.20,159.35" fill="none" stroke="#bc6238" stroke-width="1.30"/>
<path d="M48.30,147.80 C52.75,147.60 67.88,147.02 75.00,146.60 C82.12,146.18 86.83,145.62 91.00,145.30 C95.17,144.98 97.50,144.83 100.00,144.70 C102.50,144.57 104.10,144.47 106.00,144.50 C107.90,144.53 109.65,144.52 111.40,144.90 C113.15,145.28 115.02,146.02 116.50,146.80 C117.98,147.58 119.25,148.53 120.30,149.60 C121.35,150.67 122.17,152.02 122.80,153.20 C123.43,154.38 123.77,155.67 124.10,156.70 C124.43,157.72 124.68,158.91 124.80,159.35" fill="none" stroke="#1c24c0" stroke-width="1.60"/>
<path d="M64.68,159.35v-1.50 M64.68,127.60v1.50 M81.06,159.35v-1.50 M81.06,127.60v1.50 M97.44,159.35v-1.50 M97.44,127.60v1.50 M113.82,159.35v-1.50 M113.82,127.60v1.50" stroke="#3c3c3c" stroke-width="0.90" fill="none"/>
<rect x="48.30" y="127.60" width="81.90" height="31.75" fill="none" stroke="#3c3c3c" stroke-width="0.90"/>
<text x="28.80" y="228.30" font-size="9.00" text-anchor="end">0</text>
<text x="28.80" y="202.96" font-size="9.00" text-anchor="end">5</text>
<text x="28.80" y="177.62" font-size="9.00" letter-spacing="-0.25" text-anchor="end">10</text>
<text x="28.80" y="152.29" font-size="9.00" letter-spacing="-0.25" text-anchor="end">15</text>
<text x="28.80" y="126.95" font-size="9.00" letter-spacing="-0.25" text-anchor="end">20</text>
<text x="21.30" y="236.06" font-size="9.00" letter-spacing="-0.25">−1800</text>
<text x="70.00" y="236.06" font-size="9.00" letter-spacing="-0.25">−1500</text>
<text x="122.00" y="236.06" font-size="9.00" letter-spacing="-0.25">−1200</text>
<text x="174.50" y="236.06" font-size="9.00" letter-spacing="-0.25">−900</text>
<text x="226.50" y="236.06" font-size="9.00" letter-spacing="-0.25">−600</text>
<text x="278.50" y="236.06" font-size="9.00" letter-spacing="-0.25">−300</text>
<text x="340.40" y="236.06" font-size="9.00" text-anchor="middle">0</text>
<text x="0.45" y="178.00" font-size="10.50" font-style="italic" letter-spacing="0.75">h/d</text>
<text x="46.50" y="132.00" font-size="9.00" letter-spacing="-0.25" text-anchor="end">18</text>
<text x="46.30" y="161.50" font-size="9.00" text-anchor="end">0</text>
<text x="39.40" y="169.00" font-size="9.00" letter-spacing="-0.25">−500</text>
<text x="130.80" y="169.00" font-size="9.00" text-anchor="middle">0</text>
<text x="83.00" y="170.80" font-size="9.00" font-style="italic">ξ/d</text>
<text x="0.2" y="128.80" font-size="9.6">(<tspan font-style="italic">b</tspan>)</text>
<text x="184.50" y="247.80" font-size="9.60" font-style="italic">ξ/d</text>
</svg>
</body></html>
